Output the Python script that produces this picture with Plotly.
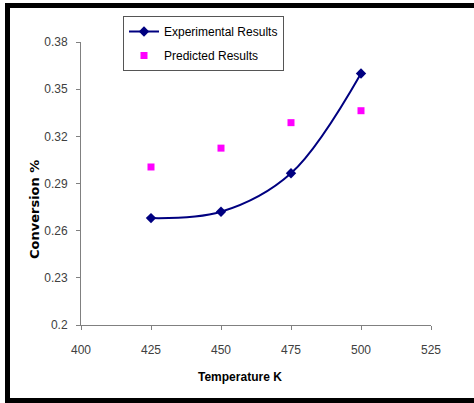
import plotly.graph_objects as go

temps = [425, 450, 475, 500]
experimental = [0.268, 0.272, 0.2965, 0.360]
predicted = [0.3005, 0.3125, 0.3287, 0.3363]
y_ticks = [0.2, 0.23, 0.26, 0.29, 0.32, 0.35, 0.38]
y_tick_labels = ["0.2", "0.23", "0.26", "0.29", "0.32", "0.35", "0.38"]
x_ticks = [400, 425, 450, 475, 500, 525]

narrow = "Liberation Sans Narrow, Arial Narrow, Liberation Sans, sans-serif"

fig = go.Figure()
fig.add_trace(go.Scatter(
    x=temps, y=experimental, name="Experimental Results",
    mode="lines+markers", legendgroup="a",
    line=dict(color="#000080", width=2, shape="spline", smoothing=1),
    marker=dict(symbol="diamond", size=8, color="#000080"),
))
fig.add_trace(go.Scatter(
    x=temps, y=predicted, name="Predicted Results",
    mode="markers", legendgroup="b",
    marker=dict(symbol="square", size=7, color="#FF00FF"),
))

W, H = 474, 403
L, R, T, B = 81, 431, 42, 325
pw, ph = R - L, B - T

def px(x):
    return (x - L) / pw

def py(y):
    return (B - y) / ph

def bar(x0, x1, y0, y1):
    return dict(type="rect", xref="paper", yref="paper",
                x0=px(x0), x1=px(x1), y0=py(y0), y1=py(y1),
                fillcolor="black", line=dict(width=0), layer="above")

fig.update_layout(
    width=W, height=H,
    margin=dict(l=L, r=W - R, t=T, b=H - B),
    paper_bgcolor="white", plot_bgcolor="white",
    showlegend=True,
    legend=dict(
        x=px(123), y=py(16), xanchor="left", yanchor="top",
        bgcolor="white", bordercolor="#555555", borderwidth=1,
        font=dict(family=narrow, size=12, color="black"),
        tracegroupgap=5, itemwidth=30,
    ),
    xaxis=dict(
        range=[400, 525], tickvals=x_ticks, showgrid=False, zeroline=False,
        showline=True, linecolor="#808080", linewidth=1,
        ticks="outside", ticklen=4, tickcolor="#808080",
        tickfont=dict(family=narrow, size=12, color="#404040"),
        ticklabelstandoff=10,
    ),
    yaxis=dict(
        range=[0.2, 0.38], tickvals=y_ticks, ticktext=y_tick_labels,
        showgrid=False, zeroline=False,
        showline=True, linecolor="#808080", linewidth=1,
        ticks="outside", ticklen=4, tickcolor="#808080",
        tickfont=dict(family=narrow, size=12, color="#404040"),
        ticklabelstandoff=6,
    ),
    annotations=[
        dict(text="<b>Conversion %</b>", xref="paper", yref="paper",
             x=px(34), y=py(210), xanchor="center", yanchor="middle",
             textangle=-90, showarrow=False,
             font=dict(family="DejaVu Sans", size=13, color="black")),
        dict(text="<b>Temperature K</b>", xref="paper", yref="paper",
             x=px(240), y=py(386), showarrow=False,
             font=dict(family=narrow, size=12, color="black")),
    ],
    shapes=[
        bar(5, 10, 3, 403),
        bar(5, 474, 3, 8),
        bar(5, 474, 398, 403),
    ],
)

fig.write_html("out.html")
